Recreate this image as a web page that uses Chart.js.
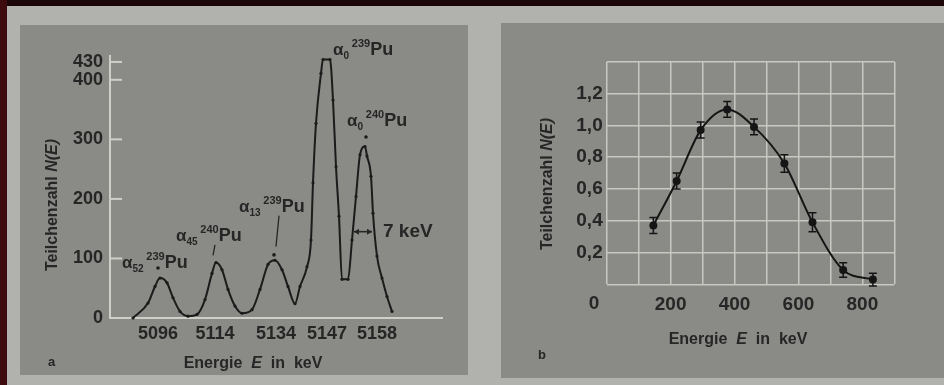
<!DOCTYPE html>
<html>
<head>
<meta charset="utf-8">
<script src="https://cdn.jsdelivr.net/npm/chart.js@4.4.0/dist/chart.umd.min.js"></script>
<style>
  body { margin: 0; width: 944px; height: 385px; background: #b1b1ad; position: relative; overflow: hidden; }
  .strip-top { position: absolute; left: 0; top: 0; width: 944px; height: 6px; background: #1c0708; }
  .strip-left { position: absolute; left: 0; top: 0; width: 7px; height: 385px; background: #3e0b0f; }
  .panel { position: absolute; background: #8a8a87; }
  #panelA { left: 20px; top: 25px; width: 448px; height: 350px; }
  #panelB { left: 501px; top: 23px; width: 443px; height: 355px; }
  canvas { position: absolute; top: 0; }
  #chartA { left: 0; }
  #chartB { left: 490px; }
</style>
</head>
<body>
<div class="strip-top"></div>
<div class="strip-left"></div>
<div class="panel" id="panelA"></div>
<div class="panel" id="panelB"></div>
<canvas id="chartA" width="470" height="385"></canvas>
<canvas id="chartB" width="454" height="385"></canvas>
<script>
// --- a: alpha spectrum of Pu (counts over channel, peaks labelled in keV)
const spectrumChannel = [23, 38, 45, 50, 57, 63, 70, 78, 87, 95, 102, 106, 112, 118, 125, 132, 142, 150, 158, 165, 172, 178, 185, 190, 197, 201, 203, 206, 211, 213, 220, 223, 226, 229, 232, 238, 242, 246, 250, 255, 257, 261, 263, 267, 272, 277, 282];
const spectrumCounts = [0, 25, 53, 67, 59, 34, 11, 3, 6, 31, 75, 93, 81, 48, 20, 8, 14, 48, 90, 97, 81, 53, 24, 53, 86, 131, 227, 327, 411, 434, 434, 366, 254, 171, 65, 65, 131, 204, 274, 288, 272, 238, 176, 104, 67, 36, 11];
const extraChannel = [48, 164, 256];
const extraCounts = [84, 106, 304];
const peakChannel = [48, 105, 166, 217, 267];
const peakEnergy = ["5096", "5114", "5134", "5147", "5158"];
const countTicks = [0, 100, 200, 300, 400, 430];

// --- b: beta spectrum with error bars
const energyKeV = [146, 219, 294, 377, 461, 556, 644, 740, 833];
const relCounts = [0.37, 0.65, 0.97, 1.10, 0.99, 0.76, 0.39, 0.09, 0.03];
const relErrors = [0.05, 0.05, 0.05, 0.05, 0.05, 0.055, 0.06, 0.045, 0.04];
const energyLabels = [200, 400, 600, 800];

const FONT = '"Liberation Sans", Arial, sans-serif';
const INK = "#262626";

// draw text made of several pieces: [text, size, dy, italic]
function drawParts(ctx, parts, x, y, center) {
  const fontOf = p => (p[3] ? "italic " : "") + "bold " + p[1] + "px " + FONT;
  let w = 0;
  parts.forEach(p => {
    ctx.font = fontOf(p);
    w += ctx.measureText(p[0]).width;
  });
  let cx = center ? x - w / 2 : x;
  parts.forEach(p => {
    ctx.font = fontOf(p);
    ctx.fillText(p[0], cx, y + (p[2] || 0));
    cx += ctx.measureText(p[0]).width;
  });
}

function isotope(sub, mass) {
  return [["α", 17, 0], [sub, 10, 4], [" ", 10, 0], [mass, 11, -8], ["Pu", 18, 0]];
}

const titleY = [["Teilchenzahl ", 16, 0], ["N(E)", 16, 0, true]];
const titleX = [["Energie  ", 16, 0], ["E", 16, 0, true], ["  in  keV", 16, 0]];

const annotA = {
  id: "annotA",
  afterDraw(chart) {
    const ctx = chart.ctx;
    const sx = chart.scales.x, sy = chart.scales.y;
    const px = v => sx.getPixelForValue(v);
    const py = v => sy.getPixelForValue(v);
    ctx.save();
    // inward tick marks
    ctx.strokeStyle = "#cfcfca";
    ctx.lineWidth = 2;
    countTicks.forEach(v => {
      if (v === 0) return;
      ctx.beginPath();
      ctx.moveTo(chart.chartArea.left, py(v));
      ctx.lineTo(chart.chartArea.left + 12, py(v));
      ctx.stroke();
    });
    ctx.fillStyle = INK;
    ctx.strokeStyle = INK;
    ctx.textBaseline = "alphabetic";
    drawParts(ctx, isotope("52", "239"), px(12), py(84));
    drawParts(ctx, isotope("45", "240"), px(66), py(130));
    drawParts(ctx, isotope("13", "239"), px(129), py(178));
    drawParts(ctx, isotope("0", "239"), px(223), py(442));
    drawParts(ctx, isotope("0", "240"), px(237), py(323));
    // leader lines
    ctx.lineWidth = 1.3;
    ctx.beginPath();
    ctx.moveTo(px(105), py(123)); ctx.lineTo(px(103), py(105));
    ctx.moveTo(px(169), py(172)); ctx.lineTo(px(166), py(120));
    ctx.stroke();
    // FWHM marker
    const y7 = py(145), a = px(244), b = px(262);
    ctx.lineWidth = 1.6;
    ctx.beginPath(); ctx.moveTo(a, y7); ctx.lineTo(b, y7); ctx.stroke();
    [[a, 1], [b, -1]].forEach(([x, d]) => {
      ctx.beginPath();
      ctx.moveTo(x, y7); ctx.lineTo(x + 5 * d, y7 - 3); ctx.lineTo(x + 5 * d, y7 + 3);
      ctx.closePath(); ctx.fill();
    });
    ctx.textBaseline = "middle";
    drawParts(ctx, [["7 keV", 19, 0]], px(273), y7);
    // axis titles
    drawParts(ctx, titleX, 253, 364, true);
    ctx.translate(53, 205);
    ctx.rotate(-Math.PI / 2);
    drawParts(ctx, titleY, 0, 0, true);
    ctx.restore();
    ctx.save();
    ctx.fillStyle = INK;
    ctx.textBaseline = "middle";
    drawParts(ctx, [["a", 13, 0]], 48, 362);
    ctx.restore();
  }
};

const annotB = {
  id: "annotB",
  afterDatasetsDraw(chart) {
    const ctx = chart.ctx;
    const sx = chart.scales.x, sy = chart.scales.y;
    ctx.save();
    ctx.strokeStyle = "#151515";
    ctx.lineWidth = 1.5;
    energyKeV.forEach((e, i) => {
      const x = sx.getPixelForValue(e);
      const y1 = sy.getPixelForValue(relCounts[i] - relErrors[i]);
      const y2 = sy.getPixelForValue(relCounts[i] + relErrors[i]);
      ctx.beginPath();
      ctx.moveTo(x, y1); ctx.lineTo(x, y2);
      ctx.moveTo(x - 4, y1); ctx.lineTo(x + 4, y1);
      ctx.moveTo(x - 4, y2); ctx.lineTo(x + 4, y2);
      ctx.stroke();
    });
    ctx.fillStyle = INK;
    ctx.textBaseline = "middle";
    drawParts(ctx, [["0", 19, 0]], chart.chartArea.left - 18, chart.chartArea.bottom + 19);
    drawParts(ctx, titleX, 248, 340, true);
    drawParts(ctx, [["b", 13, 0]], 48, 355);
    ctx.translate(58, 184);
    ctx.rotate(-Math.PI / 2);
    drawParts(ctx, titleY, 0, 0, true);
    ctx.restore();
  }
};

new Chart(document.getElementById("chartA"), {
  type: "line",
  data: {
    datasets: [{
      data: spectrumChannel.map((c, i) => ({ x: c, y: spectrumCounts[i] })),
      borderColor: "#1b1b1b",
      borderWidth: 2,
      pointRadius: 1.6,
      pointBackgroundColor: "#1b1b1b",
      pointBorderWidth: 0,
      cubicInterpolationMode: "monotone",
      clip: false
    }, {
      data: extraChannel.map((c, i) => ({ x: c, y: extraCounts[i] })),
      showLine: false,
      pointRadius: 1.8,
      pointBackgroundColor: "#1b1b1b",
      pointBorderWidth: 0
    }]
  },
  options: {
    responsive: false,
    animation: false,
    layout: { padding: { left: 20, right: 28, top: 56, bottom: 0 } },
    plugins: { legend: { display: false }, tooltip: { enabled: false } },
    scales: {
      x: {
        type: "linear", min: 0, max: 332,
        afterFit: s => { s.height = 67; },
        afterBuildTicks: s => { s.ticks = peakChannel.map(v => ({ value: v })); },
        ticks: {
          callback: (v, i) => peakEnergy[i],
          font: { family: FONT, size: 18, weight: "bold" }, color: INK, padding: 5,
          maxRotation: 0, autoSkip: false
        },
        grid: { display: false, drawTicks: false },
        border: { color: "#cfcfca", width: 2 }
      },
      y: {
        min: 0, max: 440,
        afterFit: s => { s.width = 90; },
        afterBuildTicks: s => { s.ticks = countTicks.map(v => ({ value: v })); },
        ticks: { font: { family: FONT, size: 18, weight: "bold" }, color: INK, padding: 7, autoSkip: false },
        grid: { display: false, drawTicks: false },
        border: { color: "#cfcfca", width: 2 }
      }
    }
  },
  plugins: [annotA]
});

new Chart(document.getElementById("chartB"), {
  type: "line",
  data: {
    datasets: [{
      data: energyKeV.map((e, i) => ({ x: e, y: relCounts[i] })),
      borderColor: "#151515",
      borderWidth: 2,
      pointRadius: 4,
      pointBackgroundColor: "#151515",
      pointBorderWidth: 0,
      cubicInterpolationMode: "monotone"
    }]
  },
  options: {
    responsive: false,
    animation: false,
    layout: { padding: { left: 20, right: 49.7, top: 61.7, bottom: 0 } },
    plugins: { legend: { display: false }, tooltip: { enabled: false } },
    scales: {
      x: {
        type: "linear", min: 0, max: 900,
        afterFit: s => { s.height = 385 - 284.3; },
        ticks: {
          stepSize: 100, autoSkip: false, maxRotation: 0,
          callback: v => energyLabels.includes(v) ? String(v) : "",
          font: { family: FONT, size: 19, weight: "bold" }, color: INK, padding: 9
        },
        grid: { color: "#c8c8c3", lineWidth: 1.5, drawTicks: false },
        border: { display: false }
      },
      y: {
        min: 0, max: 1.4,
        afterFit: s => { s.width = 96.7; },
        ticks: {
          stepSize: 0.2, autoSkip: false,
          callback: v => (v > 0.1 && v < 1.3) ? v.toFixed(1).replace(".", ",") : "",
          font: { family: FONT, size: 19, weight: "bold" }, color: INK, padding: 4
        },
        grid: { color: "#c8c8c3", lineWidth: 1.5, drawTicks: false },
        border: { display: false }
      }
    }
  },
  plugins: [annotB]
});
</script>
</body>
</html>
